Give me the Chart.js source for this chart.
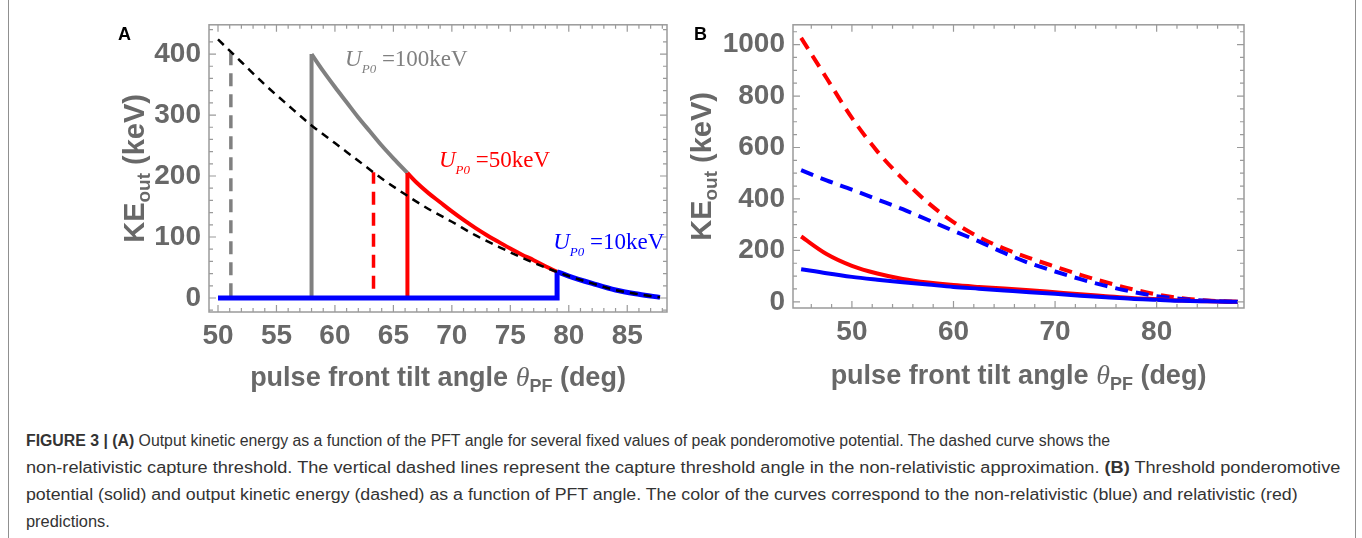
<!DOCTYPE html>
<html>
<head>
<meta charset="utf-8">
<script src="https://cdn.jsdelivr.net/npm/chart.js@4.4.1/dist/chart.umd.min.js"></script>
<style>
  html, body { margin: 0; padding: 0; background: #fff; }
  body { width: 1362px; height: 538px; position: relative; overflow: hidden; font-family: "Liberation Sans", Arial, sans-serif; }
  #frame { position: absolute; left: 8px; top: -2px; width: 1346px; height: 560px; border-left: 1.5px solid #909090; border-right: 1.5px solid #909090; }
  canvas { position: absolute; top: 0; }
  #chartA { left: 100px; }
  #chartB { left: 690px; }
  .tag { position: absolute; top: 24px; font: bold 18px "Liberation Sans", Arial, sans-serif; color: #000; }
  #caption { position: absolute; left: 26px; top: 427px; font-family: "Liberation Sans Narrow", "Arial Narrow", "Liberation Sans", sans-serif; font-size: 16px; line-height: 27px; color: #333; white-space: nowrap; }
  #caption .ln { display: inline-block; transform-origin: 0 50%; }
  #caption div { height: 27px; }
</style>
</head>
<body>
<div id="frame"></div>
<canvas id="chartA" width="590" height="400"></canvas>
<canvas id="chartB" width="672" height="400"></canvas>
<div class="tag" style="left:118px">A</div>
<div class="tag" style="left:694px">B</div>
<div id="caption">
  <div><span class="ln" data-w="1084"><b>FIGURE 3 | (A)</b> Output kinetic energy as a function of the PFT angle for several fixed values of peak ponderomotive potential. The dashed curve shows the</span></div>
  <div><span class="ln" data-w="1314">non-relativistic capture threshold. The vertical dashed lines represent the capture threshold angle in the non-relativistic approximation. <b>(B)</b> Threshold ponderomotive</span></div>
  <div><span class="ln" data-w="1272">potential (solid) and output kinetic energy (dashed) as a function of PFT angle. The color of the curves correspond to the non-relativistic (blue) and relativistic (red)</span></div>
  <div><span class="ln" data-w="84">predictions.</span></div>
</div>

<script>
// ---- panel A data (angle in deg, KE in keV) ----
const thetaThresh = [50, 52, 54, 56, 58, 60, 62, 64, 66, 68, 70, 72, 74, 76, 78, 80, 82, 84, 86, 87.8];
const keThresh = [424, 387, 350, 316, 283, 254, 225, 196, 170, 146, 125, 103, 84, 66, 50, 36, 24, 13, 6, 1];

const theta100 = [58, 59, 60, 61, 62, 63, 64, 65, 66.2];
const ke100 = [400, 372, 346, 321, 296, 273, 250, 229, 205];
const theta50 = [66.2, 67, 68, 69, 70, 71, 72, 73, 74, 75, 76, 77, 78, 79];
const ke50 = [205, 189, 172, 157, 142, 128, 115, 103, 92, 81, 71, 62, 52, 43];
const theta10 = [79, 80, 82, 84, 86, 87.8];
const ke10 = [43, 36, 24, 13, 6, 1];

// capture angles (solid jump) and non-relativistic threshold angles (dashed)
const captureAngle = [58, 66.2, 79];
const captureTop = [400, 205, 43];
const nrAngle = [51.1, 63.3];
const nrBottom = [3, 15];
const nrTop = [405, 206];

const ticksXA = [50, 55, 60, 65, 70, 75, 80, 85];
const ticksYA = [0, 100, 200, 300, 400];

// ---- panel B data ----
const thetaB = [45, 47.5, 50, 52.5, 55, 57.5, 60, 62.5, 65, 67.5, 70, 72.5, 75, 77.5, 80, 82.5, 85, 88];
const keRelDashed = [1026, 870, 715, 585, 478, 385, 310, 252, 207, 170, 137, 105, 76, 50, 29, 14, 5, 0];
const keNrDashed = [512, 472, 436, 398, 360, 318, 276, 235, 190, 150, 118, 88, 62, 40, 22, 11, 4, 0];
const upRelSolid = [254, 186, 140, 110, 89, 75, 65, 58, 52, 45, 37, 29, 22, 15, 10, 5, 2, 0];
const upNrSolid = [127, 111, 97, 86, 76, 67, 58, 51, 44, 37, 31, 24, 18, 12, 8, 4, 2, 0];

const ticksXB = [50, 60, 70, 80];
const ticksYB = [0, 200, 400, 600, 800, 1000];

const GRAY = '#808080', RED = '#ff0000', BLUE = '#0000ff';
const LABEL = '#686868';
const tickFont = { family: 'Liberation Sans', size: 28, weight: 'bold' };

function pts(xs, ys) {
    return xs.map((x, i) => ({ x: x, y: ys[i] }));
}

function line(data, color, width, dash, smooth) {
    return {
        data: data,
        borderColor: color,
        borderWidth: width,
        borderDash: dash || [],
        pointRadius: 0,
        fill: false,
        tension: 0,
        cubicInterpolationMode: smooth ? 'monotone' : 'default',
    };
}

// draws text made of pieces (normal + subscript) centred on cx
function drawRich(ctx, parts, cx, y) {
    let w = 0;
    parts.forEach(p => { ctx.font = p.font; p.w = ctx.measureText(p.t).width; w += p.w; });
    let x = cx - w / 2;
    parts.forEach(p => {
        ctx.font = p.font;
        ctx.fillStyle = p.color || LABEL;
        ctx.fillText(p.t, x, y + (p.dy || 0));
        x += p.w;
    });
}

const bold = s => 'bold ' + s + 'px "Liberation Sans", Arial, sans-serif';

function xTitle() {
    return [
        { t: 'pulse front tilt angle ', font: bold(27) },
        { t: 'θ', font: 'italic 28px "Liberation Serif", serif' },
        { t: 'PF', font: bold(18), dy: 6 },
        { t: ' (deg)', font: bold(27) },
    ];
}
function yTitle() {
    return [
        { t: 'KE', font: bold(29) },
        { t: 'out', font: bold(19), dy: 6 },
        { t: ' (keV)', font: bold(29) },
    ];
}

// Mathematica-like frame with inward ticks on every side, plus titles and notes
const framePlugin = {
    id: 'frameTicks',
    afterDatasetsDraw(chart, args, o) {
        const ctx = chart.ctx, a = chart.chartArea;
        const sx = chart.scales.x, sy = chart.scales.y;
        ctx.save();
        ctx.strokeStyle = '#9a9a9a';
        ctx.lineWidth = 1.5;
        ctx.strokeRect(a.left, a.top, a.right - a.left, a.bottom - a.top);
        ctx.lineWidth = 1.2;
        const mark = (v, major, horiz) => {
            const len = major ? 7 : 4;
            ctx.beginPath();
            if (horiz) {
                const px = sx.getPixelForValue(v);
                ctx.moveTo(px, a.bottom); ctx.lineTo(px, a.bottom - len);
                ctx.moveTo(px, a.top); ctx.lineTo(px, a.top + len);
            } else {
                const py = sy.getPixelForValue(v);
                ctx.moveTo(a.left, py); ctx.lineTo(a.left + len, py);
                ctx.moveTo(a.right, py); ctx.lineTo(a.right - len, py);
            }
            ctx.stroke();
        };
        for (let v = Math.ceil(sx.min / o.xMinor) * o.xMinor; v <= sx.max; v += o.xMinor) mark(v, o.xMajor.includes(v), true);
        for (let v = Math.ceil(sy.min / o.yMinor) * o.yMinor; v <= sy.max; v += o.yMinor) mark(v, o.yMajor.includes(v), false);

        ctx.textAlign = 'left';
        ctx.textBaseline = 'alphabetic';
        drawRich(ctx, xTitle(), (a.left + a.right) / 2, o.xTitleY);
        ctx.save();
        ctx.translate(o.yTitleX, (a.top + a.bottom) / 2);
        ctx.rotate(-Math.PI / 2);
        drawRich(ctx, yTitle(), 0, 0);
        ctx.restore();

        (o.notes || []).forEach(n => {
            let x = sx.getPixelForValue(n.x), y = sy.getPixelForValue(n.y);
            const parts = [
                { t: 'U', font: 'italic 23px "Liberation Serif", serif' },
                { t: 'P0', font: 'italic 13px "Liberation Serif", serif', dy: 7 },
                { t: ' =' + n.text, font: '23px "Liberation Serif", serif' },
            ];
            parts.forEach(p => {
                ctx.font = p.font;
                ctx.fillStyle = n.color;
                ctx.fillText(p.t, x, y + (p.dy || 0));
                x += ctx.measureText(p.t).width;
            });
        });
        ctx.restore();
    }
};

function scaleX(min, max, ticks, height) {
    return {
        type: 'linear', min: min, max: max,
        grid: { display: false, drawTicks: false }, border: { display: false },
        ticks: { font: tickFont, color: LABEL, padding: 7, maxRotation: 0, autoSkip: false, callback: v => String(v) },
        afterBuildTicks: s => { s.ticks = ticks.map(v => ({ value: v })); },
        afterFit: s => { s.height = height; },
    };
}
function scaleY(min, max, ticks, width) {
    return {
        type: 'linear', min: min, max: max,
        grid: { display: false, drawTicks: false }, border: { display: false },
        ticks: { font: tickFont, color: LABEL, padding: 8, autoSkip: false, callback: v => String(v) },
        afterBuildTicks: s => { s.ticks = ticks.map(v => ({ value: v })); },
        afterFit: s => { s.width = width; },
    };
}

const chartA = new Chart(document.getElementById('chartA'), {
    type: 'line',
    data: {
        datasets: [
            line(pts(thetaThresh, keThresh), '#000', 2.5, [8, 6], true),
            line(pts([50, captureAngle[2], captureAngle[2]], [0, 0, captureTop[2]]), BLUE, 5, null, false),
            line(pts(theta10, ke10), BLUE, 5, null, true),
            line(pts([captureAngle[1], captureAngle[1]], [0, captureTop[1]]), RED, 4, null, false),
            line(pts(theta50, ke50), RED, 4, null, true),
            line(pts([captureAngle[0], captureAngle[0]], [0, captureTop[0]]), GRAY, 4, null, false),
            line(pts(theta100, ke100), GRAY, 4, null, true),
            line(pts([nrAngle[1], nrAngle[1]], [nrBottom[1], nrTop[1]]), RED, 3.5, [13, 8], false),
            line(pts([nrAngle[0], nrAngle[0]], [nrBottom[0], nrTop[0]]), GRAY, 3.5, [13, 8], false),
        ],
    },
    options: {
        responsive: false,
        animation: false,
        layout: { padding: { top: 24, right: 23, left: 0, bottom: 0 } },
        plugins: {
            legend: { display: false },
            tooltip: { enabled: false },
            frameTicks: {
                xMajor: ticksXA, xMinor: 1, yMajor: ticksYA, yMinor: 20,
                xTitleY: 386, yTitleX: 44,
                notes: [
                    { x: 60.87, y: 381, text: '100keV', color: GRAY },
                    { x: 68.9, y: 215, text: '50keV', color: RED },
                    { x: 78.67, y: 81, text: '10keV', color: BLUE },
                ],
            },
        },
        scales: {
            x: scaleX(49.23, 88.4, ticksXA, 88),
            y: scaleY(-23, 448, ticksYA, 109),
        },
    },
    plugins: [framePlugin],
});

const chartB = new Chart(document.getElementById('chartB'), {
    type: 'line',
    data: {
        datasets: [
            line(pts(thetaB, upNrSolid), BLUE, 4, null, true),
            line(pts(thetaB, upRelSolid), RED, 4, null, true),
            line(pts(thetaB, keNrDashed), BLUE, 4, [13, 8], true),
            line(pts(thetaB, keRelDashed), RED, 4, [13, 8], true),
        ],
    },
    options: {
        responsive: false,
        animation: false,
        layout: { padding: { top: 23, right: 118, left: 0, bottom: 0 } },
        plugins: {
            legend: { display: false },
            tooltip: { enabled: false },
            frameTicks: {
                xMajor: ticksXB, xMinor: 2, yMajor: ticksYB, yMinor: 50,
                xTitleY: 384, yTitleX: 21,
            },
        },
        scales: {
            x: scaleX(44.2, 88.6, ticksXB, 92),
            y: scaleY(-24, 1077, ticksYB, 103),
        },
    },
    plugins: [framePlugin],
});

// fit every caption line to the width it has in the printed figure
document.querySelectorAll('#caption .ln').forEach(el => {
    const k = Number(el.dataset.w) / el.offsetWidth;
    el.style.transform = 'scaleX(' + k + ')';
});
</script>
</body>
</html>
